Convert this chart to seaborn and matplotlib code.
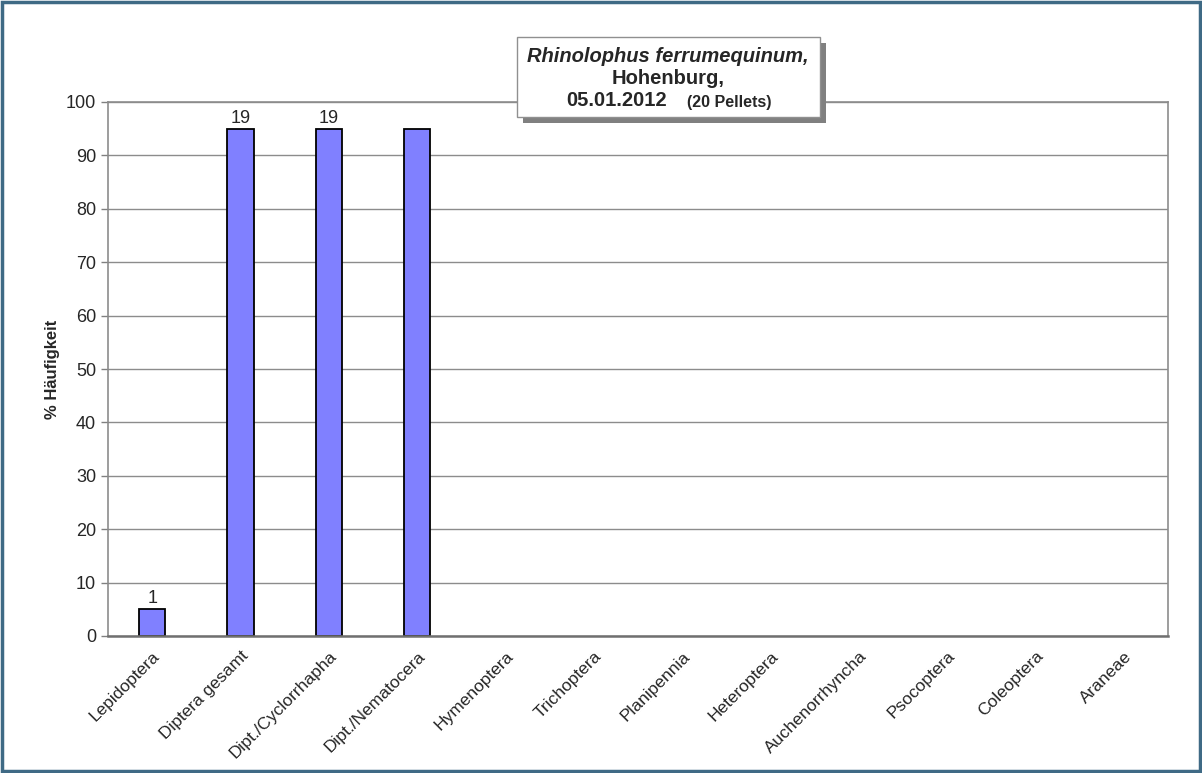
import numpy as np
import matplotlib.pyplot as plt
import pandas as pd
import seaborn as sns
from matplotlib.patches import Rectangle

# data
taxa = ['Lepidoptera', 'Diptera gesamt', 'Dipt./Cyclorrhapha', 'Dipt./Nematocera',
        'Hymenoptera', 'Trichoptera', 'Planipennia', 'Heteroptera',
        'Auchenorrhyncha', 'Psocoptera', 'Coleoptera', 'Araneae']
percent = [5, 95, 95, 95, 0, 0, 0, 0, 0, 0, 0, 0]
counts = ['1', '19', '19', '', '', '', '', '', '', '', '', '']

df = pd.DataFrame({'taxon': taxa, 'pct': percent})

sns.set_style('white')
plt.rcParams['font.family'] = ['Liberation Sans', 'DejaVu Sans']

fig = plt.figure(figsize=(12.02, 7.73), dpi=100)
ax = fig.add_axes([108 / 1202, 1 - 636 / 773, (1168 - 108) / 1202, (636 - 102) / 773])

sns.barplot(data=df, x='taxon', y='pct', color='#8080FF', saturation=1,
            edgecolor='black', linewidth=1.3, width=0.3, ax=ax)
# no outline for empty categories
for p, v in zip(ax.patches, percent):
    if v == 0:
        p.set_linewidth(0)

ax.set_ylim(0, 100)
ax.set_xlim(-0.5, len(taxa) - 0.5)
ax.set_yticks(np.arange(0, 101, 10))
ax.yaxis.grid(True, color='#8c8c8c', linewidth=1)
ax.set_axisbelow(True)

# ticks between categories
ax.set_xticks(np.arange(len(taxa)))
ax.set_xticklabels(taxa, rotation=45, ha='right', rotation_mode='anchor', fontsize=12.5)
ax.set_xticks(np.arange(-0.5, len(taxa)), minor=True)
ax.tick_params(axis='x', which='major', length=0, pad=9)
ax.tick_params(axis='x', which='minor', length=5, color='#808080', width=1, direction='inout')
ax.tick_params(axis='y', length=5, color='#808080', width=1, labelsize=13, direction='out', left=True)

for s in ax.spines.values():
    s.set_color('#8c8c8c')
    s.set_linewidth(1.2)
ax.spines['bottom'].set_color('#707070')
ax.spines['bottom'].set_linewidth(1.8)

ax.set_xlabel('')
ax.set_ylabel('% Häufigkeit', fontsize=12, fontweight='bold', labelpad=4)

for i, (v, c) in enumerate(zip(percent, counts)):
    if c:
        ax.text(i, v + 0.4, c, ha='center', va='bottom', fontsize=13)

# title box with shadow
fig.patches.append(Rectangle((523 / 1202, 1 - 123 / 773), 303 / 1202, 80 / 773,
                             transform=fig.transFigure, facecolor='#808080',
                             edgecolor='none', zorder=5))
fig.patches.append(Rectangle((517 / 1202, 1 - 117 / 773), 303 / 1202, 80 / 773,
                             transform=fig.transFigure, facecolor='white',
                             edgecolor='#909090', linewidth=1, zorder=6))
fig.text(668 / 1202, 1 - 57 / 773, 'Rhinolophus ferrumequinum,', ha='center', va='center',
         fontsize=14.5, fontweight='bold', fontstyle='italic', zorder=7)
fig.text(668 / 1202, 1 - 79 / 773, 'Hohenburg,', ha='center', va='center',
         fontsize=14.5, fontweight='bold', zorder=7)
fig.text(617 / 1202, 1 - 101 / 773, '05.01.2012', ha='center', va='center',
         fontsize=14.5, fontweight='bold', zorder=7)
fig.text(729 / 1202, 1 - 102 / 773, '(20 Pellets)', ha='center', va='center',
         fontsize=11.5, fontweight='bold', zorder=7)

# outer frame
fig.patches.append(Rectangle((0.002, 0.003), 0.996, 0.994, transform=fig.transFigure,
                             facecolor='none', edgecolor='#3f6a85', linewidth=2.5, zorder=10))

fig.savefig('out.png', dpi=100)
